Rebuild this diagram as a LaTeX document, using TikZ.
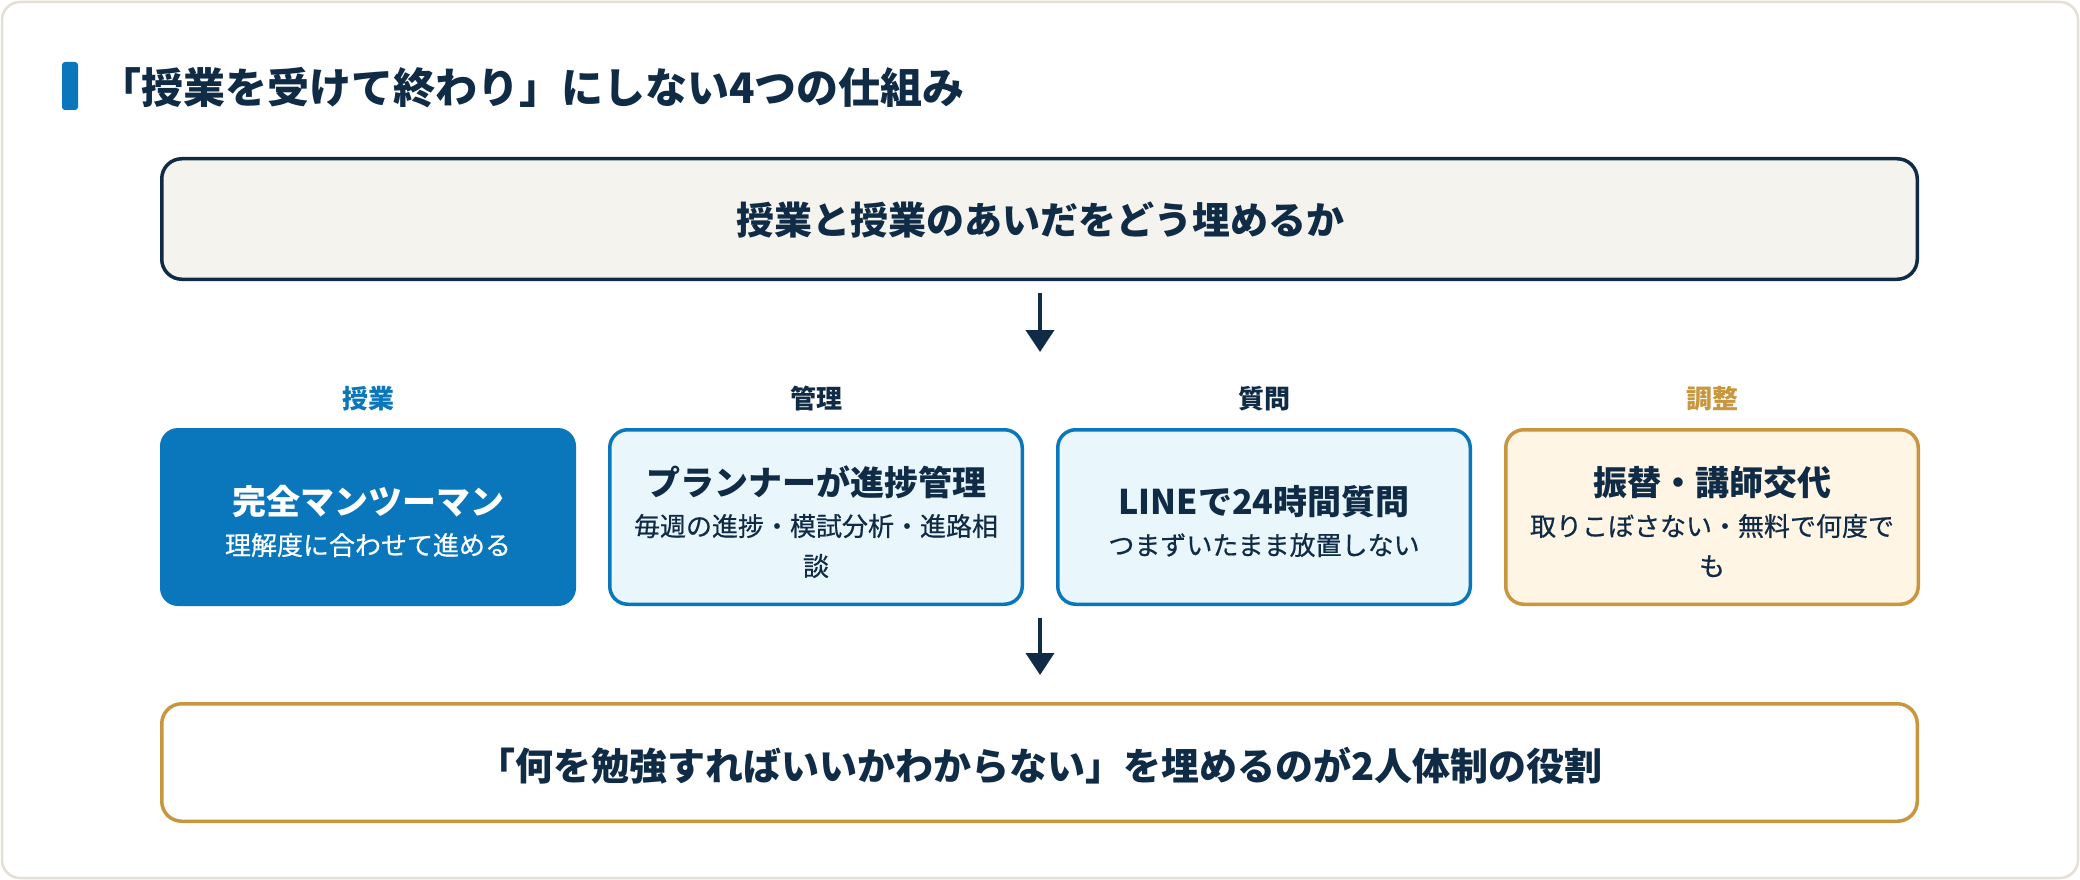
\documentclass[tikz,border=0pt]{standalone}
\usepackage{fontspec}
\newfontfamily\jp{Noto Sans CJK JP}
\newfontfamily\jpm{Noto Sans CJK JP}[FakeBold=0.6]
\usetikzlibrary{arrows.meta}
\definecolor{navy}{HTML}{0F2B46}
\definecolor{mblue}{HTML}{0A76BC}
\definecolor{gold}{HTML}{C8963E}
\definecolor{cream}{HTML}{FFF5E4}
\definecolor{cyanfill}{HTML}{E9F7FD}
\definecolor{topfill}{HTML}{F5F3EE}
\definecolor{framec}{HTML}{E3E0D3}
\tikzset{
  txt/.style={inner sep=0pt, anchor=center},
  ttl/.style={txt, font=\jp\bfseries\fontsize{42}{50}\selectfont, text=navy, text height=37pt, text depth=5pt},
  big/.style={txt, font=\jp\bfseries\fontsize{38}{46}\selectfont, text=navy, text height=33.4pt, text depth=4.6pt},
  cat/.style={txt, font=\jp\bfseries\fontsize{26}{31}\selectfont, text height=22.9pt, text depth=3.1pt},
  btitle/.style={txt, font=\jp\bfseries\fontsize{34}{41}\selectfont, text=navy, text height=29.9pt, text depth=4.1pt},
  bsub/.style={txt, font=\jpm\fontsize{26}{31}\selectfont, text=navy, text height=22.9pt, text depth=3.1pt},
  card/.style={rounded corners=18pt, minimum width=412.5pt, minimum height=174.5pt, line width=3.5pt, inner sep=0pt},
  widebox/.style={rounded corners=20pt, minimum width=1755.5pt, line width=3.5pt, inner sep=0pt},
  arr/.style={draw=navy, line width=4pt, -{Triangle[width=28pt,length=22pt]}},
}
\begin{document}
\begin{tikzpicture}[x=1pt,y=-1pt]
\path[use as bounding box] (0,0) rectangle (2080,880);
\draw[framec, fill=white, line width=2.5pt, rounded corners=18pt] (2,2) rectangle (2078,878);
% heading
\fill[mblue, rounded corners=3pt] (62,62) rectangle (78,110);
\node[ttl, anchor=west] (title) at (99,88) {「授業を受けて終わり」にしない4つの仕組み};
% top box
\node[widebox, draw=navy, fill=topfill, minimum height=120.5pt] (top) at (1039.5,219) {};
\node[big] (toptext) at (1040,220) {授業と授業のあいだをどう埋めるか};
% arrow 1
\coordinate (a1s) at (1040,293);
\coordinate (a1e) at (1040,352);
\draw[arr] (a1s) -- (a1e);
% category labels
\node[cat, text=mblue] (l1) at (368,399) {授業};
\node[cat, text=navy]  (l2) at (816,399) {管理};
\node[cat, text=navy]  (l3) at (1264,399) {質問};
\node[cat, text=gold]  (l4) at (1712,399) {調整};
% cards
\node[card, fill=mblue, minimum width=416pt, minimum height=178pt] (c1) at (368,517) {};
\node[card, draw=mblue, fill=cyanfill] (c2) at (816,517) {};
\node[card, draw=mblue, fill=cyanfill] (c3) at (1264,517) {};
\node[card, draw=gold, fill=cream] (c4) at (1712,517) {};
% card texts
\node[btitle, text=white] (c1t) at (368,502) {完全マンツーマン};
\node[bsub, text=white] (c1s) at (368,545) {理解度に合わせて進める};
\node[btitle] (c2t) at (816,483) {プランナーが進捗管理};
\node[bsub] (c2s) at (816,526) {毎週の進捗・模試分析・進路相};
\node[bsub] (c2u) at (816,566) {談};
\node[btitle] (c3t) at (1264,502) {LINEで24時間質問};
\node[bsub] (c3s) at (1264,545) {つまずいたまま放置しない};
\node[btitle] (c4t) at (1712,483) {振替・講師交代};
\node[bsub] (c4s) at (1712,526) {取りこぼさない・無料で何度で};
\node[bsub] (c4u) at (1712,566) {も};
% arrow 2
\coordinate (a2s) at (1040,618);
\coordinate (a2e) at (1040,675);
\draw[arr] (a2s) -- (a2e);
% bottom box
\node[widebox, draw=gold, fill=white, minimum height=117.5pt] (bot) at (1039.5,762.5) {};
\node[big] (bottext) at (1040,766) {「何を勉強すればいいかわからない」を埋めるのが2人体制の役割};
\end{tikzpicture}
\end{document}
